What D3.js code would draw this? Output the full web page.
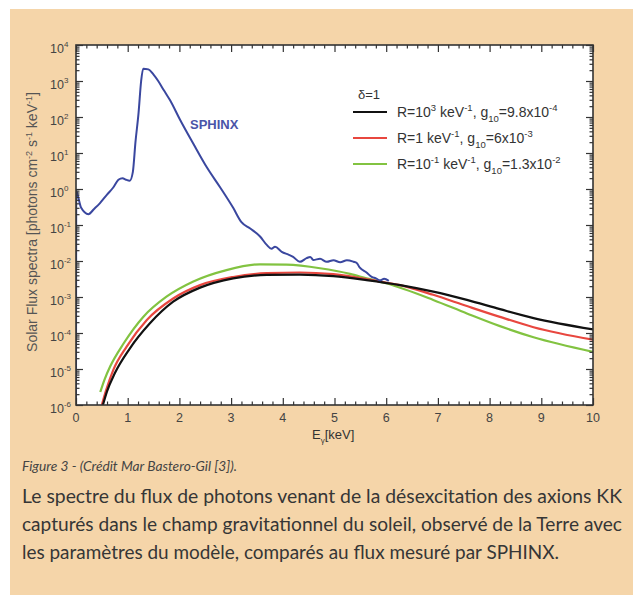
<!DOCTYPE html>
<html>
<head>
<meta charset="utf-8">
<script src="https://cdn.jsdelivr.net/npm/d3@7"></script>
<style>
  html, body { margin: 0; padding: 0; background: #fff; }
  svg { display: block; }
</style>
</head>
<body>
<svg id="fig" width="633" height="595"></svg>
<script>
// ---- Data: energies in keV, flux in photons cm^-2 s^-1 keV^-1 ----
const sphinxE = [0, 0.005, 0.03, 0.1, 0.24, 0.35, 0.46, 0.6, 0.72, 0.82, 0.9, 0.97, 1.04, 1.1, 1.15, 1.21, 1.26, 1.3, 1.4, 1.5, 1.59, 1.7, 1.82, 2.01, 2.27, 2.53, 2.79, 3.04, 3.2, 3.37, 3.56, 3.69, 3.78, 3.85, 3.98, 4.11, 4.2, 4.33, 4.46, 4.53, 4.59, 4.72, 4.85, 4.98, 5.11, 5.24, 5.37, 5.43, 5.49, 5.62, 5.72, 5.8, 5.88, 5.96, 6.05];
const sphinxFlux = [1e-6, 0.9, 0.7, 0.3, 0.2, 0.28, 0.4, 0.7, 1.1, 1.8, 2.0, 1.8, 1.7, 3, 20, 130, 1000, 2200, 2100, 1500, 1000, 550, 290, 85, 18, 4.0, 1.1, 0.3, 0.12, 0.08, 0.048, 0.028, 0.022, 0.025, 0.018, 0.015, 0.013, 0.0095, 0.012, 0.013, 0.0107, 0.0115, 0.0095, 0.0105, 0.0092, 0.0105, 0.0095, 0.0088, 0.0065, 0.0048, 0.0036, 0.0033, 0.0029, 0.0032, 0.0028];

const blackE = [0.52, 0.6, 0.75, 1.04, 1.43, 1.88, 2.4, 3.04, 3.69, 4.33, 4.98, 5.62, 6.27, 6.91, 7.56, 8.2, 8.85, 10];
const blackFlux = [1e-6, 2.4e-6, 7.6e-6, 3.7e-5, 1.86e-4, 7.4e-4, 1.82e-3, 3.3e-3, 4.1e-3, 4.2e-3, 3.8e-3, 2.95e-3, 2.14e-3, 1.41e-3, 8.3e-4, 4.6e-4, 2.6e-4, 1.26e-4];

const redE = [0.5, 0.58, 0.72, 0.98, 1.37, 1.88, 2.4, 3.04, 3.69, 4.33, 4.98, 5.81, 6.27, 6.91, 7.56, 8.2, 8.85, 10];
const redFlux = [1e-6, 2.5e-6, 9.3e-6, 4.2e-5, 2.3e-4, 9.1e-4, 2.14e-3, 3.6e-3, 4.6e-3, 4.8e-3, 4.3e-3, 2.8e-3, 2.14e-3, 1.15e-3, 5.6e-4, 2.8e-4, 1.45e-4, 6.5e-5];

const greenE = [0.47, 0.55, 0.66, 0.92, 1.3, 1.75, 2.27, 2.91, 3.56, 4.07, 4.72, 5.3, 5.62, 6.0, 6.91, 7.56, 8.2, 8.85, 10];
const greenFlux = [2.3e-6, 5e-6, 1.17e-5, 5.1e-5, 2.8e-4, 1.02e-3, 2.7e-3, 5.6e-3, 8.1e-3, 7.9e-3, 6.3e-3, 4.4e-3, 3.3e-3, 2.4e-3, 8.3e-4, 3.5e-4, 1.55e-4, 7.6e-5, 3.0e-5];

const xTicks = [0, 1, 2, 3, 4, 5, 6, 7, 8, 9, 10];
const yExponents = [-6, -5, -4, -3, -2, -1, 0, 1, 2, 3, 4];

// Legend labels as runs of [text, kind]: n = normal, u = superscript, d = subscript
const legendRows = [
  { color: "#111111", runs: [["R=10", "n"], ["3", "u"], [" keV", "n"], ["-1", "u"], [", g", "n"], ["10", "d"], ["=9.8x10", "n"], ["-4", "u"]] },
  { color: "#e8473f", runs: [["R=1 keV", "n"], ["-1", "u"], [", g", "n"], ["10", "d"], ["=6x10", "n"], ["-3", "u"]] },
  { color: "#82c341", runs: [["R=10", "n"], ["-1", "u"], [" keV", "n"], ["-1", "u"], [", g", "n"], ["10", "d"], ["=1.3x10", "n"], ["-2", "u"]] }
];

const captionTitle = "Figure 3  - (Crédit Mar Bastero-Gil [3]).";
const captionLines = [
  "Le spectre du flux de photons venant de la désexcitation des axions KK",
  "capturés dans le champ gravitationnel du soleil, observé de la Terre avec",
  "les paramètres du modèle, comparés au flux mesuré par SPHINX."
];

// ---- Layout ----
const svg = d3.select("#fig");
const plot = { left: 76, right: 593, top: 45, bottom: 405 };
const axisFont = "'Liberation Sans', Arial, Helvetica, sans-serif";

// page panel
svg.append("rect").attr("x", 10).attr("y", 9).attr("width", 623).attr("height", 586)
  .attr("fill", "#f5d5a9");

const x = d3.scaleLinear().domain([0, 10]).range([plot.left, plot.right]);
const y = d3.scaleLog().domain([1e-6, 1e4]).range([plot.bottom, plot.top]);

// plot background
svg.append("rect").attr("x", plot.left).attr("y", plot.top)
  .attr("width", plot.right - plot.left).attr("height", plot.bottom - plot.top)
  .attr("fill", "#ffffff");

svg.append("clipPath").attr("id", "clip").append("rect")
  .attr("x", plot.left).attr("y", plot.top)
  .attr("width", plot.right - plot.left).attr("height", plot.bottom - plot.top);

// ---- Curves ----
const line = d3.line().x(d => x(d[0])).y(d => y(d[1])).curve(d3.curveMonotoneX);
const zip = (a, b) => a.map((v, i) => [v, b[i]]);

const curves = svg.append("g").attr("clip-path", "url(#clip)");
curves.append("path").datum(zip(greenE, greenFlux)).attr("d", line)
  .attr("fill", "none").attr("stroke", "#82c341").attr("stroke-width", 2.2);
curves.append("path").datum(zip(redE, redFlux)).attr("d", line)
  .attr("fill", "none").attr("stroke", "#e8473f").attr("stroke-width", 2.2);
curves.append("path").datum(zip(blackE, blackFlux)).attr("d", line)
  .attr("fill", "none").attr("stroke", "#111111").attr("stroke-width", 2.2);
curves.append("path").datum(zip(sphinxE, sphinxFlux)).attr("d", line)
  .attr("fill", "none").attr("stroke", "#3a479f").attr("stroke-width", 2)
  .attr("stroke-linejoin", "round");

// ---- Axes with inward ticks on all four sides ----
const minorX = d3.range(0, 10.001, 0.2).filter(v => Math.abs(v - Math.round(v)) > 1e-6);
const minorY = [];
for (let e = -6; e < 4; e++) for (let m = 2; m <= 9; m++) minorY.push(m * Math.pow(10, e));
const majorY = yExponents.map(e => Math.pow(10, e));

function styleAxis(g) {
  g.select(".domain").remove();
  g.selectAll("line").attr("stroke", "#333").attr("stroke-width", 1.2);
  g.selectAll("text").remove();
}
const MAJ = 7, MIN = 3.5;
[[d3.axisBottom, plot.bottom], [d3.axisTop, plot.top]].forEach(([ax, ty]) => {
  svg.append("g").attr("transform", `translate(0,${ty})`)
    .call(ax(x).tickValues(xTicks).tickSize(-MAJ).tickFormat("")).call(styleAxis);
  svg.append("g").attr("transform", `translate(0,${ty})`)
    .call(ax(x).tickValues(minorX).tickSize(-MIN).tickFormat("")).call(styleAxis);
});
[[d3.axisLeft, plot.left], [d3.axisRight, plot.right]].forEach(([ax, tx]) => {
  svg.append("g").attr("transform", `translate(${tx},0)`)
    .call(ax(y).tickValues(majorY).tickSize(-MAJ).tickFormat("")).call(styleAxis);
  svg.append("g").attr("transform", `translate(${tx},0)`)
    .call(ax(y).tickValues(minorY).tickSize(-MIN).tickFormat("")).call(styleAxis);
});

// frame
svg.append("rect").attr("x", plot.left).attr("y", plot.top)
  .attr("width", plot.right - plot.left).attr("height", plot.bottom - plot.top)
  .attr("fill", "none").attr("stroke", "#333").attr("stroke-width", 1.6);

// ---- Tick labels ----
const labelColor = "#444";
svg.append("g").selectAll("text").data(xTicks).join("text")
  .attr("x", d => x(d)).attr("y", plot.bottom + 17)
  .attr("text-anchor", "middle").attr("font-family", axisFont).attr("font-size", 12.5)
  .attr("fill", labelColor).text(d => d);

const yl = svg.append("g").selectAll("text").data(yExponents).join("text")
  .attr("x", 50).attr("y", d => y(Math.pow(10, d)) + 8)
  .attr("font-family", axisFont).attr("font-size", 12.5)
  .attr("fill", labelColor);
yl.append("tspan").text("10");
yl.append("tspan").attr("dy", -6).attr("font-size", 8).text(d => d);

// ---- Axis titles ----
const xt = svg.append("text").attr("x", 312).attr("y", 439)
  .attr("font-family", axisFont).attr("font-size", 13).attr("fill", "#333");
xt.append("tspan").text("E");
xt.append("tspan").attr("dy", 4).attr("font-size", 8).text("γ");
xt.append("tspan").attr("dy", -4).text("[keV]");

const yt = svg.append("text")
  .attr("transform", `translate(37,222) rotate(-90)`)
  .attr("text-anchor", "middle")
  .attr("font-family", axisFont).attr("font-size", 14).attr("fill", "#555");
yt.append("tspan").text("Solar Flux spectra [photons cm");
yt.append("tspan").attr("dy", -5).attr("font-size", 9).text("-2");
yt.append("tspan").attr("dy", 5).text(" s");
yt.append("tspan").attr("dy", -5).attr("font-size", 9).text("-1");
yt.append("tspan").attr("dy", 5).text(" keV");
yt.append("tspan").attr("dy", -5).attr("font-size", 9).text("-1");
yt.append("tspan").attr("dy", 5).text("]");

// ---- Curve label ----
svg.append("text").attr("x", 190).attr("y", 129)
  .attr("font-family", axisFont).attr("font-size", 13).attr("font-weight", "bold")
  .attr("fill", "#4a55a8").text("SPHINX");

// ---- Legend ----
const lg = svg.append("g").attr("font-family", axisFont).attr("fill", "#333");
lg.append("text").attr("x", 358).attr("y", 99).attr("font-size", 13).text("δ=1");
const rowY = [112, 138, 164];
legendRows.forEach((row, i) => {
  lg.append("line").attr("x1", 353).attr("x2", 387).attr("y1", rowY[i]).attr("y2", rowY[i])
    .attr("stroke", row.color).attr("stroke-width", 2.2);
  const t = lg.append("text").attr("x", 397).attr("y", rowY[i] + 5).attr("font-size", 14);
  let level = 0;
  row.runs.forEach(([s, kind]) => {
    const target = kind === "u" ? -6 : kind === "d" ? 5 : 0;
    const ts = t.append("tspan").attr("dy", target - level).text(s);
    if (kind !== "n") ts.attr("font-size", 9.5);
    level = target;
  });
});

// ---- Caption ----
const capFont = "Lato, 'Open Sans', sans-serif";
svg.append("text").attr("x", 22).attr("y", 471)
  .attr("font-family", capFont).attr("font-style", "italic").attr("font-size", 13)
  .attr("fill", "#444").attr("textLength", 215).attr("lengthAdjust", "spacingAndGlyphs")
  .text(captionTitle);
const capWidths = [600, 600, 537];
svg.append("g").selectAll("text").data(captionLines).join("text")
  .attr("x", 22).attr("y", (d, i) => 503 + i * 28)
  .attr("font-family", capFont).attr("font-size", 18.5).attr("fill", "#363636")
  .attr("textLength", (d, i) => capWidths[i]).attr("lengthAdjust", "spacingAndGlyphs")
  .text(d => d);
</script>
</body>
</html>
